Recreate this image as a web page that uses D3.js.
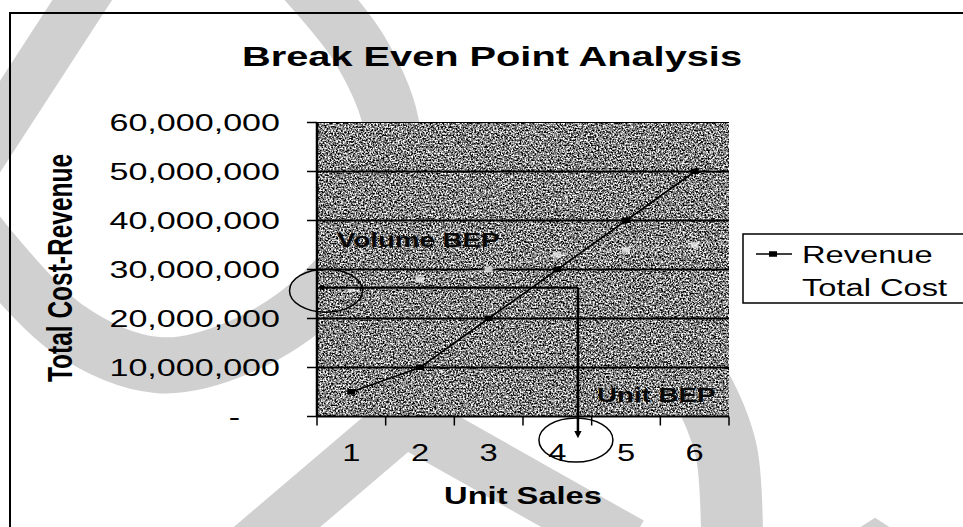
<!DOCTYPE html>
<html>
<head>
<meta charset="utf-8">
<script src="https://cdn.jsdelivr.net/npm/d3@7"></script>
<style>
html, body { margin: 0; padding: 0; background: #fff; }
svg { display: block; font-family: "Liberation Sans", Arial, sans-serif; }
</style>
</head>
<body>
<svg id="chart" width="963" height="527"></svg>
<script>
// Break even chart, copied off a scanned page (so: grain, stretched glyphs, watermark)

var units = ["1", "2", "3", "4", "5", "6"];
var revenue = [5000000, 10000000, 20000000, 30000000, 40000000, 50000000];
var totalCost = [26000000, 28000000, 30000000, 33000000, 34000000, 35000000];
var yTicks = [0, 10000000, 20000000, 30000000, 40000000, 50000000, 60000000];
var seriesNames = ["Revenue", "Total Cost"];
// hand drawn BEP marks
var bepUnits = 4.3;
var bepVolume = 26300000;

var W = 963, H = 527;
var SX = 1.42; // the scan is stretched sideways, so the text is too
var plot = { left: 317, right: 729, top: 122.5, bottom: 416.5 };

var svg = d3.select("#chart");
var defs = svg.append("defs");

// grainy plot fill
var grain = defs.append("filter")
	.attr("id", "grain")
	.attr("x", 0).attr("y", 0).attr("width", "100%").attr("height", "100%")
	.attr("color-interpolation-filters", "sRGB");
grain.append("feTurbulence")
	.attr("type", "fractalNoise")
	.attr("baseFrequency", "0.6")
	.attr("numOctaves", 3)
	.attr("seed", 7)
	.attr("result", "n");
grain.append("feColorMatrix")
	.attr("in", "n")
	.attr("type", "matrix")
	.attr("values", "2.5 0 0 0 -0.74  2.5 0 0 0 -0.74  2.5 0 0 0 -0.74  0 0 0 0 1");

defs.append("marker")
	.attr("id", "arrow")
	.attr("viewBox", "0 0 10 10")
	.attr("refX", 5).attr("refY", 5)
	.attr("markerWidth", 3).attr("markerHeight", 3)
	.attr("orient", "auto")
	.append("path").attr("d", "M0,0 L10,5 L0,10 z").attr("fill", "#000");

svg.append("rect").attr("width", W).attr("height", H).attr("fill", "#fff");

// watermark stripes behind everything
var wm = svg.append("g")
	.attr("fill", "none")
	.attr("stroke", "#d0d0d0")
	.attr("stroke-width", 56);
var wmLine = d3.line().curve(d3.curveCatmullRom.alpha(0.5));
wm.append("path").attr("d", wmLine([[-25, 165], [105, -35]])).attr("stroke-width", 50);
wm.append("path").attr("d", wmLine([[-25, 230], [67, 328], [157, 365], [240, 347], [323, 292], [382, 210], [392, 130], [360, 50], [295, -30]]));
wm.append("path").attr("d", d3.line()([[250, 550], [405, 418], [630, 545]])).attr("stroke-linejoin", "miter");
wm.append("path").attr("d", wmLine([[640, 300], [700, 385], [726, 450], [732, 545]])).attr("stroke-width", 62);
wm.append("path").attr("d", d3.line()([[830, 580], [875, 551], [920, 580]])).attr("stroke-linejoin", "miter");

// scanned page frame
svg.append("path")
	.attr("d", "M10," + H + " L10,13 L" + W + ",13")
	.attr("fill", "none").attr("stroke", "#000").attr("stroke-width", 2);

var x = d3.scaleLinear().domain([0.5, units.length + 0.5]).range([plot.left, plot.right]);
var y = d3.scaleLinear().domain([0, 60000000]).range([plot.bottom, plot.top]);
var fmt = d3.format(",");

// text that gets the same sideways stretch as the scan
function label(parent, tx, ty, txt, size, weight, anchor, rotate) {
	var t = parent.append("text")
		.attr("transform", "translate(" + tx + "," + ty + ") scale(" + SX + ",1)" + (rotate ? " rotate(" + rotate + ")" : ""))
		.attr("font-size", size)
		.attr("font-weight", weight || "normal")
		.attr("text-anchor", anchor || "start")
		.attr("fill", "#000")
		.text(txt);
	return t;
}

// plot area
svg.append("rect")
	.attr("x", plot.left).attr("y", plot.top)
	.attr("width", plot.right - plot.left).attr("height", plot.bottom - plot.top)
	.attr("fill", "#777")
	.attr("filter", "url(#grain)");

// gridlines
svg.append("g").selectAll("line")
	.data(yTicks.filter(function(d) { return d > 0; }))
	.enter().append("line")
		.attr("x1", plot.left).attr("x2", plot.right)
		.attr("y1", function(d) { return y(d); })
		.attr("y2", function(d) { return y(d); })
		.attr("stroke", "#000")
		.attr("stroke-width", function(d) { return d === 60000000 ? 1.2 : 2; });

// y axis
var yAxis = svg.append("g");
yAxis.append("line")
	.attr("x1", plot.left).attr("x2", plot.left)
	.attr("y1", plot.top).attr("y2", plot.bottom)
	.attr("stroke", "#000").attr("stroke-width", 2.5);
yAxis.selectAll(".tick").data(yTicks).enter().append("line")
	.attr("x1", plot.left - 10).attr("x2", plot.left)
	.attr("y1", function(d) { return y(d); })
	.attr("y2", function(d) { return y(d); })
	.attr("stroke", "#000").attr("stroke-width", 1.5);
yTicks.forEach(function(d) {
	// accounting format: zero shows as a dash, further left
	var tx = d === 0 ? 240 : 280;
	label(yAxis, tx, y(d) + 8.5, d === 0 ? "-" : fmt(d), 24, "normal", "end");
});

// x axis, ticks between categories
var xAxis = svg.append("g");
xAxis.append("line")
	.attr("x1", plot.left).attr("x2", plot.right)
	.attr("y1", plot.bottom).attr("y2", plot.bottom)
	.attr("stroke", "#000").attr("stroke-width", 2);
xAxis.selectAll(".tick").data(d3.range(units.length + 1)).enter().append("line")
	.attr("x1", function(i) { return x(i + 0.5); })
	.attr("x2", function(i) { return x(i + 0.5); })
	.attr("y1", plot.bottom).attr("y2", plot.bottom + 9)
	.attr("stroke", "#000").attr("stroke-width", 1.5);
units.forEach(function(u, i) {
	label(xAxis, x(i + 1), 461, u, 23, "normal", "middle");
});

// series
var line = d3.line()
	.x(function(d, i) { return x(i + 1); })
	.y(function(d) { return y(d); });

svg.append("path")
	.attr("d", line(totalCost))
	.attr("fill", "none").attr("stroke", "#d8d8d8").attr("stroke-width", 1.3).attr("opacity", 0.45);
svg.append("g").selectAll("rect")
	.data(totalCost).enter().append("rect")
		.attr("x", function(d, i) { return x(i + 1) - 4; })
		.attr("y", function(d) { return y(d) - 3; })
		.attr("width", 8).attr("height", 6)
		.attr("fill", "#f0f0f0").attr("opacity", 0.75);

svg.append("path")
	.attr("d", line(revenue))
	.attr("fill", "none").attr("stroke", "#000").attr("stroke-width", 1.6);
svg.append("g").selectAll("rect")
	.data(revenue).enter().append("rect")
		.attr("x", function(d, i) { return x(i + 1) - 4; })
		.attr("y", function(d) { return y(d) - 3; })
		.attr("width", 8).attr("height", 5.5)
		.attr("fill", "#000");

// BEP annotations
var ann = svg.append("g").attr("fill", "none").attr("stroke", "#000");
ann.append("path")
	.attr("d", "M" + x(bepUnits) + "," + y(bepVolume) + " L" + (plot.left + 4) + "," + y(bepVolume))
	.attr("stroke-width", 2.2)
	.attr("marker-end", "url(#arrow)");
ann.append("path")
	.attr("d", "M" + x(bepUnits) + "," + y(bepVolume) + " L" + x(bepUnits) + "," + (plot.bottom + 18))
	.attr("stroke-width", 2.5)
	.attr("marker-end", "url(#arrow)");
ann.append("ellipse")
	.attr("cx", plot.left + 9).attr("cy", y(bepVolume) + 3)
	.attr("rx", 36.5).attr("ry", 21.5)
	.attr("stroke-width", 1.5);
ann.append("ellipse")
	.attr("cx", x(bepUnits) - 2).attr("cy", plot.bottom + 23.5)
	.attr("rx", 37).attr("ry", 22)
	.attr("stroke-width", 1.5);

label(svg, 337, 247, "Volume BEP", 19.5, "bold", "start").attr("fill", "#0a0a0a");
label(svg, 597, 402, "Unit BEP", 19.5, "bold", "start").attr("fill", "#0a0a0a");

// titles
label(svg, 492, 66, "Break Even Point Analysis", 28, "bold", "middle");
label(svg, 523, 504, "Unit Sales", 23, "bold", "middle");
label(svg, 72, 268, "Total Cost-Revenue", 24.5, "bold", "middle", -90);

// legend
var leg = svg.append("g");
leg.append("rect")
	.attr("x", 743).attr("y", 234)
	.attr("width", 240).attr("height", 69)
	.attr("fill", "#fff").attr("stroke", "#000").attr("stroke-width", 1.5);
var legColors = ["#000", "#fff"];
seriesNames.forEach(function(name, i) {
	var ly = 254 + i * 33;
	leg.append("line")
		.attr("x1", 756).attr("x2", 792)
		.attr("y1", ly).attr("y2", ly)
		.attr("stroke", legColors[i]).attr("stroke-width", 1.6);
	leg.append("rect")
		.attr("x", 769).attr("y", ly - 2.75)
		.attr("width", 8).attr("height", 5.5)
		.attr("fill", legColors[i]);
	label(leg, 802, ly + 9, name, 23, "normal", "start");
});
</script>
</body>
</html>
